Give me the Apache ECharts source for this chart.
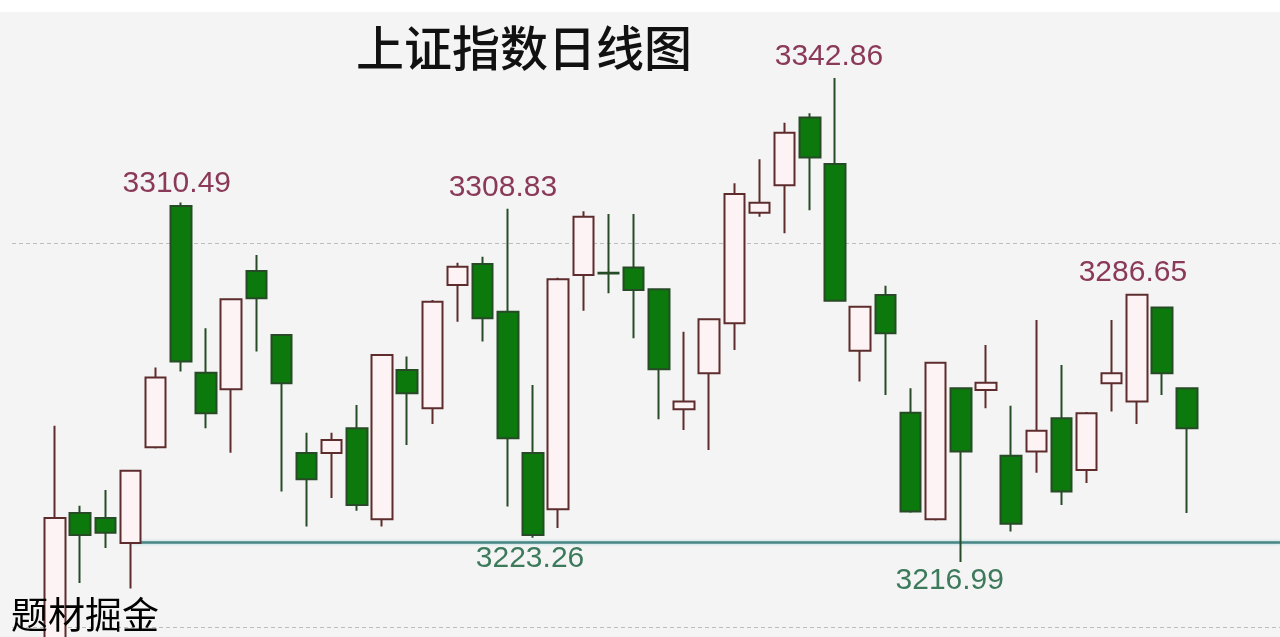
<!DOCTYPE html>
<html>
<head>
<meta charset="utf-8">
<script src="https://cdn.jsdelivr.net/npm/echarts@6/dist/echarts.min.js"></script>
<style>
html,body{margin:0;padding:0;background:#f4f4f4;}
#c{width:1280px;height:637px;}
</style>
</head>
<body>
<div id="c"></div>
<script>
// ---- data ----
const days = ['1','2','3','4','5','6','7','8','9','10','11','12','13','14','15','16','17','18','19','20','21','22','23','24','25','26','27','28','29','30','31','32','33','34','35','36','37','38','39','40','41','42','43','44','45','46'];
const opens  = [3195.0,3229.7,3228.4,3221.9,3246.8,3309.6,3266.2,3261.9,3292.7,3276.0,3245.3,3245.3,3251.8,3228.1,3266.9,3257.0,3289.0,3294.5,3282.1,3245.3,3230.7,3291.6,3292.2,3293.6,3287.9,3256.7,3266.1,3279.1,3307.8,3315.0,3332.6,3320.5,3271.9,3286.4,3255.8,3228.1,3262.2,3261.7,3244.6,3245.7,3254.4,3240.9,3263.5,3258.7,3283.2,3262.2];
const closes = [3228.4,3224.0,3224.6,3240.7,3265.0,3269.1,3255.7,3285.3,3285.6,3263.5,3238.5,3248.7,3231.8,3270.8,3260.9,3284.7,3293.8,3280.4,3249.2,3224.0,3290.5,3306.8,3292.0,3287.7,3267.1,3258.7,3280.1,3312.7,3310.4,3328.6,3322.2,3284.9,3283.4,3276.5,3230.1,3268.8,3245.7,3263.6,3226.9,3251.1,3235.3,3255.7,3266.1,3286.5,3266.1,3251.8];
const lows   = [3190.0,3211.5,3220.6,3210.1,3246.5,3266.5,3251.8,3245.4,3271.7,3235.3,3226.2,3233.6,3230.3,3226.2,3247.4,3252.9,3279.5,3274.3,3231.4,3223.26,3225.8,3282.3,3286.9,3275.2,3254.1,3251.3,3246.1,3272.1,3306.8,3302.5,3308.5,3284.7,3263.9,3260.4,3229.8,3227.8,3216.99,3257.0,3224.9,3240.2,3231.8,3237.5,3256.1,3252.9,3260.4,3229.7];
const highs  = [3252.4,3231.6,3235.7,3241.0,3267.6,3310.49,3277.8,3285.5,3296.8,3276.3,3250.6,3250.6,3257.8,3271.0,3270.4,3285.1,3294.8,3296.4,3308.83,3263.0,3290.9,3308.2,3307.5,3307.5,3288.2,3276.9,3280.4,3315.5,3321.7,3331.2,3333.7,3342.86,3283.6,3288.8,3262.2,3269.0,3262.4,3273.4,3257.6,3279.9,3268.2,3256.0,3279.9,3286.65,3283.4,3262.4];
const peakDays   = [5, 18, 31, 43];   // labelled highs
const troughDays = [19, 36];          // labelled lows
const supportLevel = 3222.2;
const supportFrom = 3;                // day index where the support line starts
const yRange = [3200, 3363.15];       // visible price range (bottom dashed line .. top of plot)

const candles = days.map((d, i) => [opens[i], closes[i], lows[i], highs[i]]);

const peakOffsets = [[-4,-19],[-5,-21],[-6,-21],[-4,-21]];
const troughOffsets = [[-3,21],[-11,19]];

const markData = [];
peakDays.forEach((d, k) => markData.push({
  coord: [d, highs[d]], value: highs[d],
  label: { color: '#8a3a58', offset: peakOffsets[k] }
}));
troughDays.forEach((d, k) => markData.push({
  coord: [d, lows[d]], value: lows[d],
  label: { color: '#3d7a5c', offset: troughOffsets[k] }
}));

const chart = echarts.init(document.getElementById('c'));
const option = {
  backgroundColor: '#f4f4f4',
  animation: false,
  title: [
    { text: '上证指数日线图', left: 356, top: 24, padding: 0,
      textStyle: { fontFamily: 'Noto Sans CJK SC', fontSize: 48, fontWeight: 500, color: '#111111' } },
    { text: '题材掘金', left: 11, top: 596, padding: 0,
      textStyle: { fontFamily: 'Noto Sans CJK SC', fontSize: 37, fontWeight: 'normal', color: '#000' } }
  ],
  graphic: [
    { type: 'rect', left: 0, top: 0, z: 0, shape: { width: 1280, height: 12 }, style: { fill: '#ffffff' } }
  ],
  grid: [
    { left: 12, right: 0, top: 0, bottom: 9.7 },
    { left: 42.4, right: 80.2, top: 0, bottom: 9.7 }
  ],
  xAxis: [
    { gridIndex: 0, type: 'value', min: 0, max: 1, show: false },
    { gridIndex: 1, type: 'category', data: days, show: false }
  ],
  yAxis: [
    { gridIndex: 0, type: 'value', min: yRange[0], max: yRange[1], interval: 100,
      axisLine: { show: false }, axisTick: { show: false }, axisLabel: { show: false },
      splitLine: { show: true, showMaxLine: false, lineStyle: { type: [4, 3], color: '#bdbdbd', width: 1 } } },
    { gridIndex: 1, type: 'value', min: yRange[0], max: yRange[1], show: false }
  ],
  series: [{
    type: 'candlestick',
    xAxisIndex: 1, yAxisIndex: 1,
    data: candles,
    barWidth: 21,
    clip: false,
    itemStyle: {
      color: '#fdf3f4', color0: '#0c790c',
      borderColor: '#5e2c2c', borderColor0: '#274a27',
      borderWidth: 2
    },
    emphasis: { disabled: true },
    markPoint: {
      symbol: 'circle', symbolSize: 1, silent: true,
      itemStyle: { color: 'rgba(0,0,0,0)' },
      label: { show: true, position: 'inside', fontFamily: 'Liberation Sans', fontSize: 30,
        formatter: p => Number(p.value).toFixed(2) },
      data: markData
    },
    markLine: {
      symbol: ['none', 'none'], silent: true, z: 1,
      label: { show: false },
      lineStyle: { color: '#4a8686', width: 2.5, type: 'solid', shadowColor: 'rgba(120,200,200,0.7)', shadowBlur: 3 },
      data: [[ { coord: [supportFrom, supportLevel] }, { coord: [days.length - 1, supportLevel], x: 1280 } ]]
    }
  }]
};
chart.setOption(option);
</script>
</body>
</html>
